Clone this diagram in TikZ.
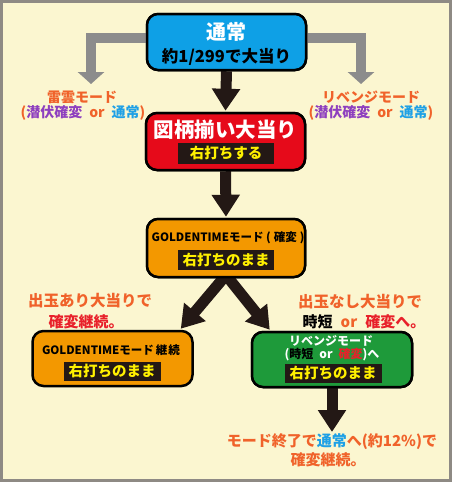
\documentclass[tikz,border=0pt]{standalone}
\usepackage{fontspec}
\setmainfont{Noto Sans CJK JP}
\usetikzlibrary{arrows.meta,calc}
\definecolor{bgc}{HTML}{FBF6D0}
\definecolor{frame}{HTML}{8E8A84}
\definecolor{bblue}{HTML}{0EA0E6}
\definecolor{bred}{HTML}{E60A1A}
\definecolor{borange}{HTML}{F39800}
\definecolor{bgreen}{HTML}{1E9A3A}
\definecolor{garrow}{HTML}{8C8C8C}
\definecolor{karrow}{HTML}{231815}
\definecolor{torange}{HTML}{F0622A}
\definecolor{tpurple}{HTML}{8E3FBF}
\definecolor{tblue}{HTML}{1EA0E6}
\definecolor{tred}{HTML}{E8202A}
\definecolor{tyellow}{HTML}{FFF000}
\newcommand{\fsz}[1]{\fontsize{#1}{#1}\selectfont\bfseries}
\begin{document}
\begin{tikzpicture}[x=1pt,y=-1pt,
  box/.style={draw=black, line width=2.5pt, rounded corners=11pt, inner sep=0pt},
  blk/.style={fill=karrow, text=tyellow, inner sep=0pt, minimum width=96pt, minimum height=20pt, font=\fsz{14.5}},
  txt/.style={inner sep=0pt, anchor=center},
  bigarrow/.style={draw=karrow, line width=11pt, -{Triangle[width=27pt,length=22pt]}},
  grayarrow/.style={draw=garrow, line width=10pt, -{Triangle[width=26pt,length=12pt]}}]
% background
\fill[bgc] (0,0) rectangle (452,482);
\draw[frame, line width=3pt] (1.5,1.5) rectangle (450.5,480.5);
\useasboundingbox (0,0) rectangle (452,482);

% boxes
\node[box, fill=bblue, minimum width=159pt, minimum height=56pt] (top) at (226.5,42) {};
\node[box, fill=bred, minimum width=159pt, minimum height=57pt] (red) at (225.5,141.5) {};
\node[box, fill=borange, minimum width=158pt, minimum height=58pt] (gt) at (226,248) {};
\node[box, fill=borange, minimum width=160pt, minimum height=55pt] (gl) at (112.5,358.5) {};
\node[box, fill=bgreen, minimum width=160pt, minimum height=55pt] (gr) at (332,359.5) {};

% gray arrows
\coordinate (lg) at (91,84);
\coordinate (rg) at (361,84);
\draw[grayarrow] ($(top.west)+(0,-4)$) -| (lg);
\draw[grayarrow] ($(top.east)+(0,-4)$) -| (rg);

% black arrows
\draw[bigarrow] (top.south) -- ($(red.north)+(0,-1)$);
\draw[bigarrow] (red.south) -- ($(gt.north)+(0,-1)$);
\draw[bigarrow] ($(gt.south)+(-1,-2)$) -- ($(gl.north east)+(-13,-1)$);
\draw[bigarrow] ($(gt.south)+(1,-2)$) -- ($(gr.north west)+(19,-1)$);
\coordinate (endpt) at (332,432);
\draw[bigarrow] (gr.south) -- (endpt);

% redraw boxes over arrow starts
\node[box, fill=bblue, minimum width=159pt, minimum height=56pt] at (top) {};
\node[box, fill=bred, minimum width=159pt, minimum height=57pt] at (red) {};
\node[box, fill=borange, minimum width=158pt, minimum height=58pt] at (gt) {};
\node[box, fill=bgreen, minimum width=160pt, minimum height=55pt] at (gr) {};

% top box text
\node[txt, text=white, font=\fsz{20}] (t1) at (226.5,32) {通常};
\node[txt, text=black, font=\fsz{16.5}] (t2) at (226.5,57) {約1/299で大当り};

% side labels
\node[txt, text=torange, font=\fsz{14}] (l1) at (82,97) {雷雲モード};
\node[txt, font=\fsz{14}] (l2) at (83,113) {\textcolor{torange}{(}\textcolor{tpurple}{潜伏確変}\hspace{7pt}\textcolor{torange}{or}\hspace{7pt}\textcolor{tblue}{通常}\textcolor{torange}{)}};
\node[txt, text=torange, font=\fsz{14}] (r1) at (371,97) {リベンジモード};
\node[txt, font=\fsz{14}] (r2) at (371,113) {\textcolor{torange}{(}\textcolor{tpurple}{潜伏確変}\hspace{7pt}\textcolor{torange}{or}\hspace{7pt}\textcolor{tblue}{通常}\textcolor{torange}{)}};

% red box text
\node[txt, text=white, font=\fsz{20.5}] (t3) at (225.5,130) {図柄揃い大当り};
\node[blk, minimum height=21pt] (b1) at (226,153) {右打ちする};

% GOLDENTIME box text
\node[txt, text=black, font=\fsz{11.5}] (t4) at (228,238) {GOLDENTIMEモード (\hspace{3pt}確変\hspace{3pt})};
\node[blk] (b2) at (226,260) {右打ちのまま};

% annotations
\node[txt, text=torange, font=\fsz{15.5}] (a1) at (90,301) {出玉あり大当りで};
\node[txt, text=tred, font=\fsz{15}] (a2) at (86,322) {確変継続。};
\node[txt, text=torange, font=\fsz{15.5}] (a3) at (360,302) {出玉なし大当りで};
\node[txt, font=\fsz{15}] (a4) at (364,322) {\textcolor{black}{時短}\hspace{8pt}\textcolor{torange}{or}\hspace{8pt}\textcolor{tred}{確変へ。}};

% left box text
\node[txt, text=black, font=\fsz{11.5}] (t5) at (111,350) {GOLDENTIMEモード\hspace{2pt}継\hspace{1pt}続};
\node[blk, minimum width=97pt, minimum height=19pt] (b3) at (112,371) {右打ちのまま};

% right box text
\node[txt, text=white, font=\fsz{12}] (t6) at (331,341) {リベンジモード};
\node[txt, text=white, font=\fsz{12}] (t7) at (332,355) {(\textcolor{black}{時短}\hspace{6pt}or\hspace{6pt}\textcolor{tred}{確変})へ};
\node[blk, minimum width=97pt, minimum height=19pt] (b4) at (333,373) {右打ちのまま};

% bottom text
\node[txt, text=torange, font=\fsz{15}] (e1) at (332,442) {モード終了で\textcolor{tblue}{通常}へ(約12\%)で};
\node[txt, text=torange, font=\fsz{15}] (e2) at (328,460) {確変継続。};
\end{tikzpicture}
\end{document}
